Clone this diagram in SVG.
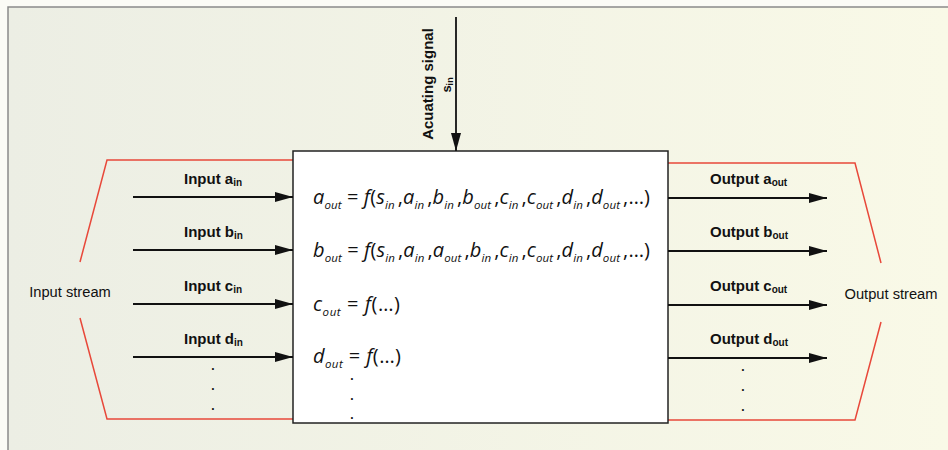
<svg xmlns="http://www.w3.org/2000/svg" width="948" height="450" viewBox="0 0 948 450">
<defs>
<linearGradient id="bg" x1="0" y1="0" x2="1" y2="0">
<stop offset="0" stop-color="#eceee4"/>
<stop offset="1" stop-color="#f9f9e7"/>
</linearGradient>
<marker id="ah" markerUnits="userSpaceOnUse" markerWidth="18" markerHeight="10" refX="18" refY="5" orient="auto">
<path d="M0,0 L18,5 L0,10 z" fill="#111"/>
</marker>
<style>
.lbl{font-family:"Liberation Sans",Arial,sans-serif;font-size:15px;font-weight:bold;fill:#111}
.str{font-family:"Liberation Sans",Arial,sans-serif;font-size:14.7px;fill:#111}
.sb{font-size:10px}
.eq{font-family:"Open Sans","Noto Sans",sans-serif;font-size:20px;fill:#111}
.v{font-style:italic}
.es{font-size:11.5px;font-style:italic}
.dot{font-family:"Liberation Sans",Arial,sans-serif;font-size:12px;font-weight:bold;fill:#111;text-anchor:middle}
.arr{stroke:#111;stroke-width:1.8;fill:none;marker-end:url(#ah)}
.red{stroke:#e8483a;stroke-width:1.5;fill:none}
</style>
</defs>
<rect x="0" y="0" width="948" height="450" fill="#fbfbf6"/>
<rect x="8" y="7" width="940" height="443" fill="url(#bg)"/>
<path d="M8,450 V7 H948" stroke="#8a8a8a" stroke-width="1.5" fill="none"/>

<g id="input-stream">
<path class="red" d="M80,262 L107,160 H293"/>
<path class="red" d="M80,318 L107,419 H293"/>
<text class="str" x="70" y="297" text-anchor="middle">Input stream</text>
</g>

<g id="output-stream">
<path class="red" d="M881,263 L855,163 H668"/>
<path class="red" d="M881,322 L855,420 H668"/>
<text class="str" x="891" y="299" text-anchor="middle">Output stream</text>
</g>

<g id="process">
<rect x="293" y="151" width="375" height="272" fill="#ffffff" stroke="#222" stroke-width="1.5"/>
<text class="eq" x="313" y="204" textLength="337" lengthAdjust="spacing" xml:space="preserve"><tspan class="v">a</tspan><tspan class="es" dy="5">out</tspan><tspan dy="-5"> = </tspan><tspan class="v">f</tspan>(<tspan class="v">s</tspan><tspan class="es" dy="5">in</tspan><tspan dy="-5" dx="3">,</tspan><tspan class="v">a</tspan><tspan class="es" dy="5">in</tspan><tspan dy="-5" dx="3">,</tspan><tspan class="v">b</tspan><tspan class="es" dy="5">in</tspan><tspan dy="-5" dx="3">,</tspan><tspan class="v">b</tspan><tspan class="es" dy="5">out</tspan><tspan dy="-5" dx="3">,</tspan><tspan class="v">c</tspan><tspan class="es" dy="5">in</tspan><tspan dy="-5" dx="3">,</tspan><tspan class="v">c</tspan><tspan class="es" dy="5">out</tspan><tspan dy="-5" dx="3">,</tspan><tspan class="v">d</tspan><tspan class="es" dy="5">in</tspan><tspan dy="-5" dx="3">,</tspan><tspan class="v">d</tspan><tspan class="es" dy="5">out</tspan><tspan dy="-5" dx="3">,…)</tspan></text>
<text class="eq" x="313" y="257" textLength="337" lengthAdjust="spacing" xml:space="preserve"><tspan class="v">b</tspan><tspan class="es" dy="5">out</tspan><tspan dy="-5"> = </tspan><tspan class="v">f</tspan>(<tspan class="v">s</tspan><tspan class="es" dy="5">in</tspan><tspan dy="-5" dx="3">,</tspan><tspan class="v">a</tspan><tspan class="es" dy="5">in</tspan><tspan dy="-5" dx="3">,</tspan><tspan class="v">a</tspan><tspan class="es" dy="5">out</tspan><tspan dy="-5" dx="3">,</tspan><tspan class="v">b</tspan><tspan class="es" dy="5">in</tspan><tspan dy="-5" dx="3">,</tspan><tspan class="v">c</tspan><tspan class="es" dy="5">in</tspan><tspan dy="-5" dx="3">,</tspan><tspan class="v">c</tspan><tspan class="es" dy="5">out</tspan><tspan dy="-5" dx="3">,</tspan><tspan class="v">d</tspan><tspan class="es" dy="5">in</tspan><tspan dy="-5" dx="3">,</tspan><tspan class="v">d</tspan><tspan class="es" dy="5">out</tspan><tspan dy="-5" dx="3">,…)</tspan></text>
<text class="eq" x="313" y="311" textLength="87" lengthAdjust="spacing" xml:space="preserve"><tspan class="v">c</tspan><tspan class="es" dy="5">out</tspan><tspan dy="-5"> = </tspan><tspan class="v">f</tspan>(…)</text>
<text class="eq" x="313" y="363" textLength="88" lengthAdjust="spacing" xml:space="preserve"><tspan class="v">d</tspan><tspan class="es" dy="5">out</tspan><tspan dy="-5"> = </tspan><tspan class="v">f</tspan>(…)</text>
<text class="dot" x="352" y="380">.</text>
<text class="dot" x="352" y="400">.</text>
<text class="dot" x="352" y="419">.</text>
</g>

<g id="actuating-signal">
<text class="lbl" transform="translate(433,84) rotate(-90)" text-anchor="middle">Acuating signal</text>
<text class="lbl" transform="translate(451,85) rotate(-90)" text-anchor="middle" style="font-size:13px">s<tspan class="sb" style="font-size:9px" dy="2">in</tspan></text>
</g>

<g id="inputs">
<text class="lbl" x="184" y="184">Input a<tspan class="sb" dy="2">in</tspan></text>
<text class="lbl" x="184" y="237">Input b<tspan class="sb" dy="2">in</tspan></text>
<text class="lbl" x="184" y="291">Input c<tspan class="sb" dy="2">in</tspan></text>
<text class="lbl" x="184" y="344">Input d<tspan class="sb" dy="2">in</tspan></text>
<text class="dot" x="213" y="370">.</text>
<text class="dot" x="213" y="390">.</text>
<text class="dot" x="213" y="410">.</text>
</g>

<g id="outputs">
<text class="lbl" x="710" y="184">Output a<tspan class="sb" dy="2">out</tspan></text>
<text class="lbl" x="710" y="237">Output b<tspan class="sb" dy="2">out</tspan></text>
<text class="lbl" x="710" y="291">Output c<tspan class="sb" dy="2">out</tspan></text>
<text class="lbl" x="710" y="344">Output d<tspan class="sb" dy="2">out</tspan></text>
<text class="dot" x="743" y="371">.</text>
<text class="dot" x="743" y="391">.</text>
<text class="dot" x="743" y="411">.</text>
</g>

<g id="connectors">
<line class="arr" x1="456" y1="17" x2="456" y2="151"/>
<line class="arr" x1="133" y1="197" x2="293" y2="197"/>
<line class="arr" x1="133" y1="250" x2="293" y2="250"/>
<line class="arr" x1="133" y1="304" x2="293" y2="304"/>
<line class="arr" x1="133" y1="357" x2="293" y2="357"/>
<line class="arr" x1="668" y1="198" x2="827" y2="198"/>
<line class="arr" x1="668" y1="251" x2="827" y2="251"/>
<line class="arr" x1="668" y1="305" x2="827" y2="305"/>
<line class="arr" x1="668" y1="358" x2="827" y2="358"/>
</g>
</svg>
